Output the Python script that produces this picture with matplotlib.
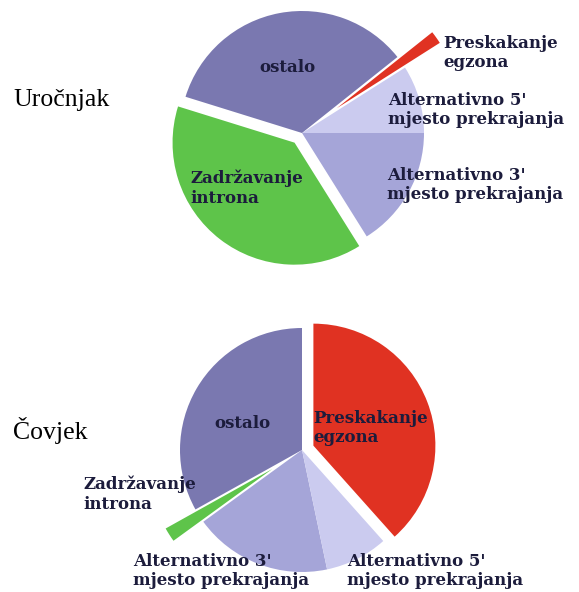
import matplotlib
matplotlib.use("Agg")
import matplotlib.pyplot as plt

W, H = 579, 592

# Uročnjak (top pie), counterclockwise from 0 deg
top_labels = ["Alternativno 5'\nmjesto prekrajanja", "Preskakanje\negzona", "ostalo",
              "Zadržavanje\nintrona", "Alternativno 3'\nmjesto prekrajanja"]
top_values = [9.0, 1.7, 34.5, 38.7, 16.1]
top_explode = [0, 0.35, 0, 0.1, 0]

# Čovjek (bottom pie), counterclockwise from 90 deg
bot_labels = ["ostalo", "Zadržavanje\nintrona", "Alternativno 3'\nmjesto prekrajanja",
              "Alternativno 5'\nmjesto prekrajanja", "Preskakanje\negzona"]
bot_values = [33.1, 1.9, 18.3, 8.3, 38.4]
bot_explode = [0, 0.29, 0, 0, 0.1]

species = ["Uročnjak", "Čovjek"]

c_other = "#7a78b0"
c_alt3 = "#a5a5d8"
c_alt5 = "#cbcbef"
c_skip = "#e03222"
c_intr = "#5ec44a"
top_colors = [c_alt5, c_skip, c_other, c_intr, c_alt3]
bot_colors = [c_other, c_intr, c_alt3, c_alt5, c_skip]

txt = "#1c1c3c"

fig = plt.figure(figsize=(W / 100, H / 100), dpi=100)
ax = fig.add_axes([0, 0, 1, 1])

R = 122
# explode in pie() is an absolute offset, so scale it by the radius
ax.pie(top_values, explode=[e * R for e in top_explode], colors=top_colors, startangle=0,
       center=(302, H - 133), radius=R, counterclock=True, frame=True,
       wedgeprops=dict(linewidth=0))
ax.pie(bot_values, explode=[e * R for e in bot_explode], colors=bot_colors, startangle=90,
       center=(302, H - 450), radius=R, counterclock=True, frame=True,
       wedgeprops=dict(linewidth=0))

ax.set_xlim(0, W)
ax.set_ylim(0, H)
ax.set_aspect("equal")
ax.axis("off")

lab = dict(fontfamily="DejaVu Serif", fontweight="bold", fontsize=12,
           color=txt, linespacing=1.2, va="center")

# top labels
ax.text(287, H - 68, top_labels[2], ha="center", **lab)
ax.text(443, H - 53, top_labels[1], ha="left", **lab)
ax.text(388, H - 110, top_labels[0], ha="left", **lab)
ax.text(190, H - 188, top_labels[3], ha="left", **lab)
ax.text(387, H - 185, top_labels[4], ha="left", **lab)

# bottom labels
ax.text(242, H - 423, bot_labels[0], ha="center", **lab)
ax.text(313, H - 428, bot_labels[4], ha="left", **lab)
ax.text(83, H - 494, bot_labels[1], ha="left", **lab)
ax.text(133, H - 571, bot_labels[2], ha="left", **lab)
ax.text(347, H - 571, bot_labels[3], ha="left", **lab)

sp = dict(fontfamily="Liberation Serif", fontsize=18.5, color="black", va="center", ha="left")
ax.text(13, H - 100, species[0], **sp)
ax.text(13, H - 430, species[1], **sp)

fig.savefig("out.png", dpi=100)
